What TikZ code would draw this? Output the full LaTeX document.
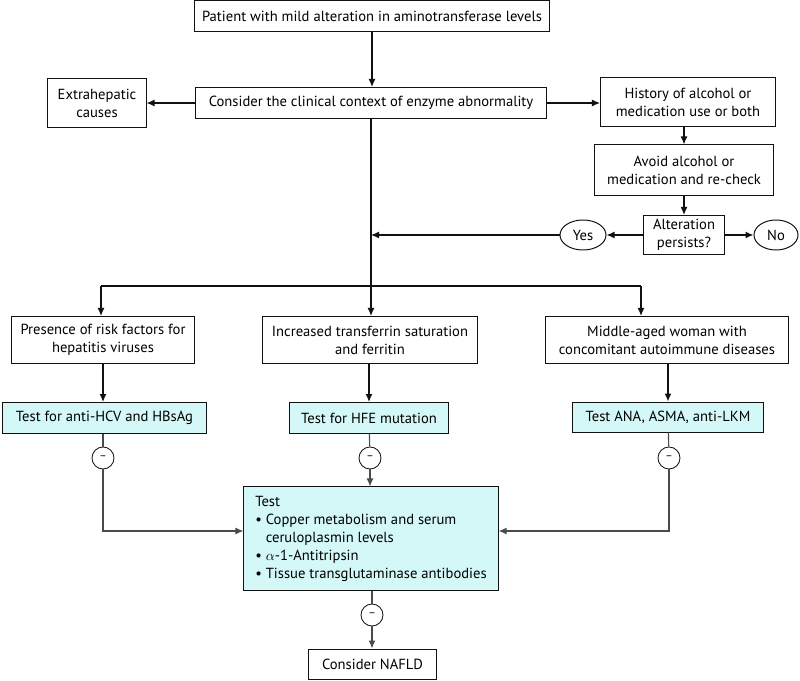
\documentclass[tikz,border=0pt]{standalone}
\usepackage{fontspec}
\setmainfont{PT Sans}
\usetikzlibrary{shapes.geometric, arrows.meta, positioning, calc}
\definecolor{fcline}{HTML}{111111}
\definecolor{fcgrey}{HTML}{4A4A4A}
\definecolor{fctest}{HTML}{D4F8F8}
\tikzset{
  step box/.style={rectangle, draw=fcline, fill=white, text=black, align=center,
              font=\fontsize{10.4}{12.8}\selectfont, inner sep=2pt, line width=0.7pt},
  testbox/.style={step box, fill=fctest},
  answer/.style={ellipse, draw=fcline, font=\fontsize{10.4}{12}\selectfont,
              inner sep=1pt, line width=0.7pt},
  negres/.style={circle, draw=fcline, minimum size=0.55cm, inner sep=0pt,
              font=\footnotesize, line width=0.6pt},
  flow/.style={-{Latex[length=2mm, width=1.7mm]}, draw=fcline, line width=0.8pt},
  flowg/.style={flow, draw=fcgrey},
  link/.style={draw=fcline, line width=0.8pt},
  linkg/.style={draw=fcgrey, line width=0.8pt},
}
\begin{document}
\begin{tikzpicture}[x=0.025cm, y=-0.025cm]
    \useasboundingbox (0,0) rectangle (800,681);
    \node[step box, minimum width=8.85cm, minimum height=0.775cm] (patient) at (372,16)  {Patient with mild alteration in aminotransferase levels};
    \node[step box, minimum width=8.75cm, minimum height=0.775cm] (context) at (371,103) {Consider the clinical context of enzyme abnormality};
    \node[step box, minimum width=2.45cm, minimum height=1.2cm]   (extra)   at (97,103)  {Extrahepatic\\causes};
    \node[step box, minimum width=4.375cm, minimum height=1.2cm]  (history) at (688,102) {History of alcohol or\\medication use or both};
    \node[step box, minimum width=4.475cm, minimum height=1.25cm] (avoid)   at (684,170) {Avoid alcohol or\\medication and re-check};
    \node[step box, minimum width=2.025cm, minimum height=0.975cm] (persist) at (684,235) {Alteration\\persists?};
    \node[answer, minimum width=1.15cm, minimum height=0.75cm] (yes) at (583,235) {Yes};
    \node[answer, minimum width=1.1cm, minimum height=0.75cm]  (no)  at (776,235) {No};
    \node[step box, minimum width=4.55cm, minimum height=1.175cm] (virus)   at (103,340) {Presence of risk factors for\\hepatitis viruses};
    \node[step box, minimum width=5.35cm, minimum height=1.175cm] (iron)    at (370,340) {Increased transferrin saturation\\and ferritin};
    \node[step box, minimum width=6.05cm, minimum height=1.175cm] (autoimm) at (667,340) {Middle-aged woman with\\concomitant autoimmune diseases};
    \node[testbox, minimum width=5.075cm, minimum height=0.775cm] (hcv) at (104.5,418) {Test for anti-HCV and HBsAg};
    \node[testbox, minimum width=3.95cm, minimum height=0.775cm]  (hfe) at (369,418)   {Test for HFE mutation};
    \node[testbox, minimum width=4.75cm, minimum height=0.75cm]   (ana) at (668,417)   {Test ANA, ASMA, anti-LKM};
    \node[negres] (neghcv) at (103,458) {--};
    \node[negres] (neghfe) at (370,458) {--};
    \node[negres] (negana) at (669,458) {--};
    \node[testbox, align=left, minimum width=6.35cm, minimum height=2.575cm] (other) at (371,538.5)
      {Test\\
       \textbullet\ Copper metabolism and serum\\
       \phantom{\textbullet\ }ceruloplasmin levels\\
       \textbullet\ $\alpha$-1-Antitripsin\\
       \textbullet\ Tissue transglutaminase antibodies};
    \node[negres] (negother) at (372,615) {--};
    \node[step box, minimum width=3.175cm, minimum height=0.75cm] (nafld) at (372.5,664) {Consider NAFLD};
    \coordinate (lbr) at (101,286);
    \coordinate (rbr) at (641,286);
    \draw[flow] (patient) -- (context.north -| patient);
    \draw[flow] (context.west) -- (extra.east |- context.west);
    \draw[flow] (context.east) -- (history.west |- context.east);
    \draw[flow] (history.south -| avoid) -- (avoid.north);
    \draw[flow] (avoid) -- (persist);
    \draw[flow] (persist) -- (yes);
    \draw[flow] (persist) -- (no);
    \draw[flow] (yes.west) -- (yes.west -| context.south);
    \draw[flow] (context.south) -- (iron.north -| context.south);
    \draw[link] (lbr) -- (rbr);
    \draw[flow] (lbr) -- (lbr |- virus.north);
    \draw[flow] (rbr) -- (rbr |- autoimm.north);
    \draw[flow] (virus.south) -- (virus.south |- hcv.north);
    \draw[flow] (iron.south -| hfe) -- (hfe.north);
    \draw[flow] (autoimm.south -| ana) -- (ana.north);
    \draw[linkg] (hcv.south -| neghcv) -- (neghcv);
    \draw[linkg] (hfe) -- (neghfe);
    \draw[linkg] (ana) -- (negana);
    \draw[flowg] (neghcv) |- ($(other.west)+(0,-7.5)$);
    \draw[flowg] (negana) |- ($(other.east)+(0,-7.5)$);
    \draw[flowg] (neghfe) -- (other.north -| neghfe);
    \draw[linkg] (other.south -| negother) -- (negother);
    \draw[flowg] (negother) -- (nafld.north -| negother);
\end{tikzpicture}
\end{document}
